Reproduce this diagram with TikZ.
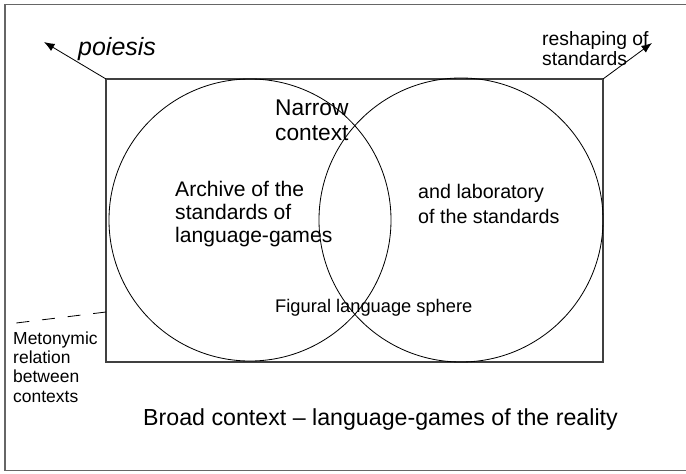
\documentclass[tikz,border=0pt]{standalone}
\usepackage{fontspec}
\setmainfont{Liberation Sans}
\usepackage{xcolor}
\usepackage{tikz}
\usetikzlibrary{positioning,shapes,arrows.meta,calc}

\tikzset{
    lbl/.style={inner sep=0pt, anchor=base west, align=left},
    sphere/.style={draw, circle, inner sep=0pt, line width=0.7pt},
    outarrow/.style={-{Latex[length=9pt,width=7pt]}, line width=0.7pt}
}

\begin{document}
\begin{tikzpicture}[x=0.03cm, y=-0.03cm]
    \useasboundingbox (0,0) rectangle (686,474);
    % broad context frame
    \draw[black!60, line width=1pt] (5,4.5) rectangle (688,470.5);
    % narrow context
    \coordinate (ctxnw) at (106,79);
    \coordinate (ctxne) at (603,79);
    \coordinate (ctxse) at (603,362);
    \coordinate (ctxw) at (106,312);
    \draw[black!75, line width=0.9pt] (ctxnw) rectangle (ctxse);

    \node[sphere, minimum size=8.46cm] (archive) at (250,220) {};
    \node[sphere, minimum size=8.52cm] (laboratory) at (461,220) {};

    \coordinate (poiesistip) at (44,42);
    \coordinate (reshapetip) at (652,43);
    \coordinate (metotip) at (8,324);
    \draw[outarrow] (ctxnw) -- (poiesistip);
    \draw[outarrow] (ctxne) -- (reshapetip);
    \draw[dash pattern=on 11pt off 11pt, line width=0.7pt] (ctxw) -- (metotip);

    % base anchor sits on the last line
    \node[lbl, font=\fontsize{21.3}{25}\selectfont\itshape] (poiesis) at (78,55) {poiesis};
    \node[lbl, font=\fontsize{16.5}{16.5}\selectfont] (reshape) at (542,65) {reshaping of\\standards};
    \node[lbl, font=\fontsize{19.4}{21.3}\selectfont] (narrow) at (275,140) {Narrow\\context};
    \node[lbl, font=\fontsize{18}{19.6}\selectfont] (archivetxt) at (175,242)
        {Archive of the\\standards of\\language-games};
    \node[lbl, font=\fontsize{16.8}{20.5}\selectfont] (labtxt) at (418,223)
        {and laboratory\\of the standards};
    \node[lbl, font=\fontsize{15.6}{17}\selectfont] (figural) at (275,312) {Figural language sphere};
    \node[lbl, font=\fontsize{14.9}{16.5}\selectfont] (metonymic) at (13,402)
        {Metonymic\\relation\\between\\contexts};
    \node[lbl, font=\fontsize{19.8}{21}\selectfont] (broad) at (143,425)
        {Broad context -- language-games of the reality};
\end{tikzpicture}
\end{document}
